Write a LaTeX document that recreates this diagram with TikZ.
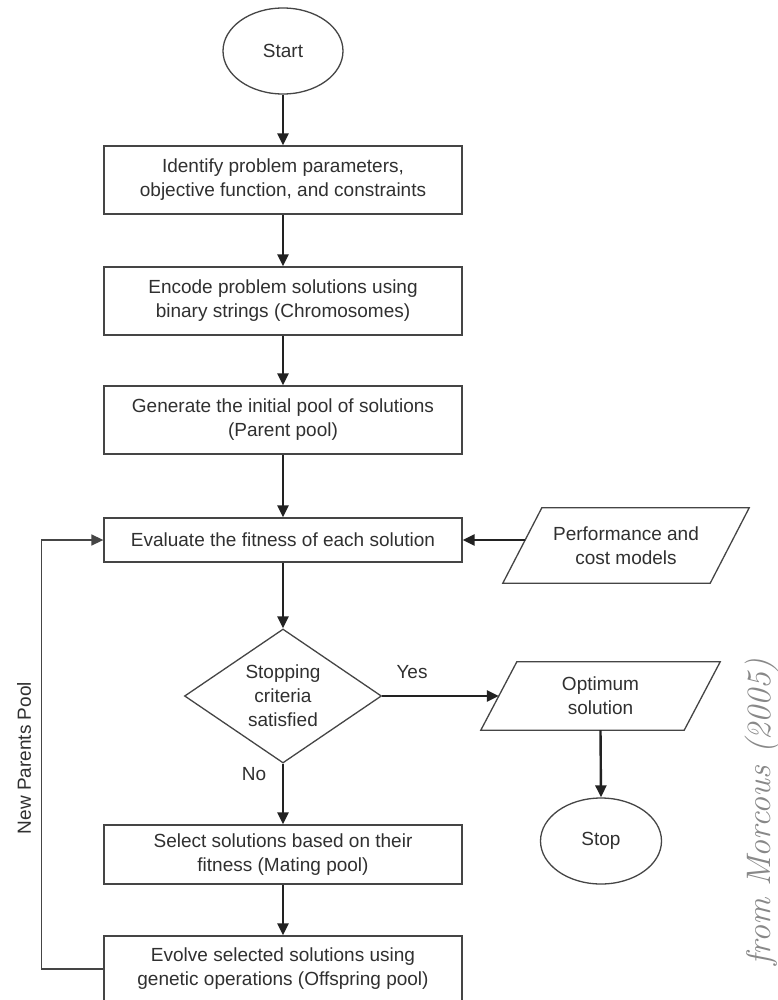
\documentclass[tikz,border=0pt]{standalone}
\usepackage{fontspec}
\newfontfamily\arialish{Liberation Sans}
\usetikzlibrary{arrows.meta,shapes.geometric,calc}

\definecolor{txtgray}{HTML}{303030}
\definecolor{linegray}{HTML}{454545}
\definecolor{arrowcol}{HTML}{222222}
\definecolor{creditgray}{HTML}{888888}

% parallelogram drawn around a rectangular text node; #2 is half the slant
\newcommand\drawslant[2]{%
  \draw[shapeline] ($(#1.north west)+(#2,0)$) -- ($(#1.north east)+(#2,0)$)
    -- ($(#1.south east)+(-#2,0)$) -- ($(#1.south west)+(-#2,0)$) -- cycle;}

\begin{document}
\begin{tikzpicture}[x=1pt,y=-1pt,
  every node/.style={font={\arialish\fontsize{19}{24}\selectfont}, text=txtgray, align=center},
  shapeline/.style={draw=linegray, line width=1.3pt},
  procbox/.style={shapeline, rectangle, minimum width=358pt, inner sep=0pt},
  termnode/.style={shapeline, ellipse, inner sep=0pt},
  iobox/.style={rectangle, inner sep=0pt},
  decision/.style={shapeline, diamond, aspect=1.47, inner sep=0pt,
    minimum width=197pt, minimum height=134pt},
  flow/.style={draw=arrowcol, line width=2.4pt, -{Triangle[width=11pt,length=12pt]}},
  loopback/.style={draw=linegray, line width=1.5pt, -{Triangle[width=11pt,length=12pt]}},
  edgelabel/.style={inner sep=0pt}]

\useasboundingbox[fill=white] (0,0) rectangle (778,1000);

% main column
\node[termnode, minimum width=120pt, minimum height=86pt] (start) at (283,51) {Start};
\node[procbox, minimum height=68pt] (ident) at (283,180)
  {Identify problem parameters,\\objective function, and constraints};
\node[procbox, minimum height=68pt] (encode) at (283,301)
  {Encode problem solutions using\\binary strings (Chromosomes)};
\node[procbox, minimum height=68pt] (gen) at (283,420)
  {Generate the initial pool of solutions\\(Parent pool)};
\node[procbox, minimum height=44pt] (eval) at (283,540)
  {Evaluate the fitness of each solution};
\node[decision] (stopcrit) at (283,696) {Stopping\\criteria\\satisfied};
\node[procbox, minimum height=59pt] (select) at (283,854.5)
  {Select solutions based on their\\fitness (Mating pool)};
\node[procbox, minimum height=66pt] (evolve) at (283,969)
  {Evolve selected solutions using\\genetic operations (Offspring pool)};

% input / output parallelograms
\node[iobox, minimum width=207pt, minimum height=75pt] (perf) at (626,545.5)
  {Performance and\\cost models};
\drawslant{perf}{19.5}
\node[iobox, minimum width=203pt, minimum height=68pt] (optim) at (600.5,696)
  {Optimum\\solution};
\drawslant{optim}{18}
\node[termnode, minimum width=121pt, minimum height=86pt] (stopnode) at (601,841) {Stop};

% connectors
\draw[flow] (start) -- (ident);
\draw[flow] (ident) -- (encode);
\draw[flow] (encode) -- (gen);
\draw[flow] (gen) -- (eval);
\draw[flow] ($(eval.east -| perf.west)+(3,0)$) -- (eval.east);
\draw[flow] (eval) -- (stopcrit.north);
\draw[flow] (stopcrit.east) -- (optim.west);
\draw[flow] (optim.south) -- (stopnode.north);
\draw[flow] (stopcrit.south) -- (select.north);
\draw[flow] (select) -- (evolve);
\draw[loopback] (evolve.west) -- ++(-62,0) coordinate (loopcorner) |- (eval.west);

% labels
\node[edgelabel] (yes) at (412,672) {Yes};
\node[edgelabel] (no) at (254,774) {No};
\node[edgelabel, rotate=90] (newpool) at (24,758) {New Parents Pool};
\node[inner sep=0pt, rotate=90, text=creditgray,
  font={\fontsize{34}{34}\selectfont\itshape}] (credit) at (762,812) {from Morcous (2005)};
\end{tikzpicture}
\end{document}
